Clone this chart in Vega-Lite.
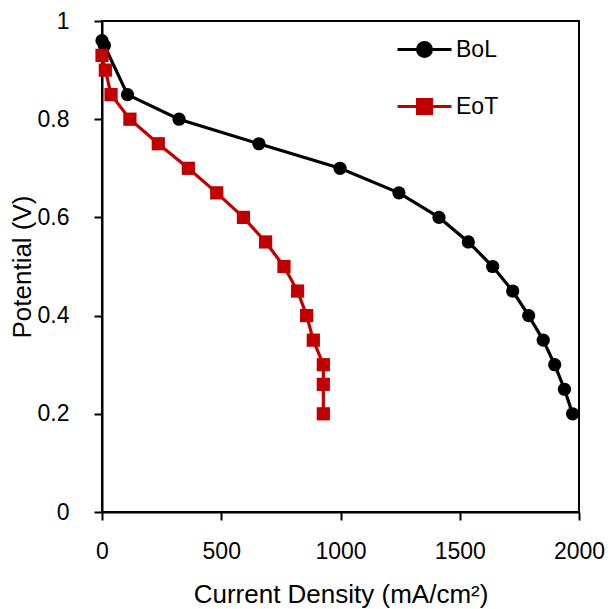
{
  "$schema": "https://vega.github.io/schema/vega-lite/v6.json",
  "autosize": "none",
  "width": 477,
  "height": 491,
  "padding": {"left": 102, "top": 21, "right": 33, "bottom": 97},
  "background": "white",
  "config": {
    "font": "Liberation Sans",
    "view": {"stroke": "black", "strokeWidth": 2},
    "axis": {"grid": false, "labelFlush": false, "domainColor": "black", "domainWidth": 2, "tickColor": "black", "tickWidth": 2, "tickSize": 8, "labelColor": "black", "titleColor": "black", "labelFontSize": 23, "titleFontSize": 26, "titleFontWeight": "normal", "labelFont": "Liberation Sans", "titleFont": "Liberation Sans"},
    "legend": {"symbolStrokeWidth": 3, "symbolOpacity": 1, "labelFontSize": 23, "labelFont": "Liberation Sans", "labelColor": "black", "labelOffset": 20, "symbolSize": 400, "orient": "none"}
  },
  "data": {
    "values": [
      {"series": "BoL", "current": 0, "potential": 0.96},
      {"series": "BoL", "current": 10, "potential": 0.95},
      {"series": "BoL", "current": 107, "potential": 0.85},
      {"series": "BoL", "current": 323, "potential": 0.80},
      {"series": "BoL", "current": 658, "potential": 0.75},
      {"series": "BoL", "current": 998, "potential": 0.70},
      {"series": "BoL", "current": 1245, "potential": 0.65},
      {"series": "BoL", "current": 1413, "potential": 0.60},
      {"series": "BoL", "current": 1536, "potential": 0.55},
      {"series": "BoL", "current": 1638, "potential": 0.50},
      {"series": "BoL", "current": 1722, "potential": 0.45},
      {"series": "BoL", "current": 1789, "potential": 0.40},
      {"series": "BoL", "current": 1850, "potential": 0.35},
      {"series": "BoL", "current": 1898, "potential": 0.30},
      {"series": "BoL", "current": 1939, "potential": 0.25},
      {"series": "BoL", "current": 1973, "potential": 0.20},
      {"series": "EoT", "current": 0, "potential": 0.93},
      {"series": "EoT", "current": 14, "potential": 0.90},
      {"series": "EoT", "current": 38, "potential": 0.85},
      {"series": "EoT", "current": 117, "potential": 0.80},
      {"series": "EoT", "current": 236, "potential": 0.75},
      {"series": "EoT", "current": 362, "potential": 0.70},
      {"series": "EoT", "current": 481, "potential": 0.65},
      {"series": "EoT", "current": 593, "potential": 0.60},
      {"series": "EoT", "current": 686, "potential": 0.55},
      {"series": "EoT", "current": 763, "potential": 0.50},
      {"series": "EoT", "current": 820, "potential": 0.45},
      {"series": "EoT", "current": 858, "potential": 0.40},
      {"series": "EoT", "current": 886, "potential": 0.35},
      {"series": "EoT", "current": 928, "potential": 0.30},
      {"series": "EoT", "current": 928, "potential": 0.26},
      {"series": "EoT", "current": 928, "potential": 0.20}
    ]
  },
  "encoding": {
    "x": {"field": "current", "type": "quantitative", "scale": {"domain": [0, 2000], "nice": false}, "axis": {"values": [0, 500, 1000, 1500, 2000], "labelExpr": "'' + datum.value", "labelPadding": 20, "title": "Current Density (mA/cm²)", "titlePadding": 18}},
    "y": {"field": "potential", "type": "quantitative", "scale": {"domain": [0, 1], "nice": false}, "axis": {"values": [0, 0.2, 0.4, 0.6, 0.8, 1], "labelExpr": "'' + datum.value", "labelPadding": 25, "title": "Potential (V)", "titlePadding": 2}}
  },
  "layer": [
    {
      "mark": {"type": "line", "strokeWidth": 3.2},
      "encoding": {"color": {"field": "series", "type": "nominal", "scale": {"domain": ["BoL", "EoT"], "range": ["#000000", "#C00000"]}, "legend": null}}
    },
    {
      "mark": {"type": "point", "filled": true, "opacity": 1, "size": 175},
      "encoding": {
        "color": {"field": "series", "type": "nominal", "scale": {"domain": ["BoL", "EoT"], "range": ["#000000", "#C00000"]}, "legend": null},
        "shape": {"field": "series", "type": "nominal", "scale": {"domain": ["BoL", "EoT"], "range": ["circle", "square"]}, "legend": null}
      }
    },
    {
      "transform": [{"filter": "false"}],
      "mark": {"type": "point", "filled": true, "opacity": 1, "stroke": "#000000", "strokeWidth": 3, "size": 400},
      "encoding": {
        "color": {"field": "series", "type": "nominal", "scale": {"domain": ["BoL"], "range": ["#000000"]},
          "legend": {"orient": "none", "legendX": 311, "legendY": 17, "title": null}},
        "shape": {"field": "series", "type": "nominal", "scale": {"domain": ["BoL"], "range": ["M-2.7,0H2.7M0.7,0A0.7,0.7,0,1,1,-0.7,0A0.7,0.7,0,1,1,0.7,0Z"]},
          "legend": {"orient": "none", "legendX": 311, "legendY": 17, "title": null}}
      }
    },
    {
      "transform": [{"filter": "false"}],
      "mark": {"type": "point", "filled": true, "opacity": 1, "stroke": "#C00000", "strokeWidth": 3, "size": 400},
      "encoding": {
        "color": {"field": "series", "type": "nominal", "scale": {"domain": ["EoT"], "range": ["#C00000"]},
          "legend": {"orient": "none", "legendX": 311, "legendY": 74, "title": null}},
        "shape": {"field": "series", "type": "nominal", "scale": {"domain": ["EoT"], "range": ["M-2.7,0H2.7M-0.7,-0.7H0.7V0.7H-0.7Z"]},
          "legend": {"orient": "none", "legendX": 311, "legendY": 74, "title": null}}
      }
    }
  ],
  "resolve": {"scale": {"color": "independent", "shape": "independent"}, "legend": {"color": "independent", "shape": "independent"}}
}
